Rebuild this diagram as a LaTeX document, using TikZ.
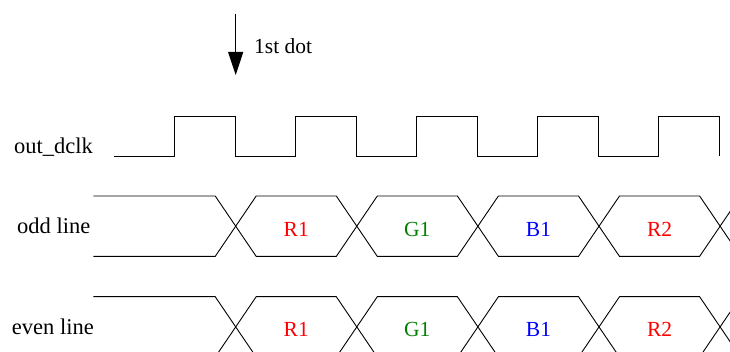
\documentclass[tikz,border=0pt]{standalone}
\usepackage{fontspec}
\setmainfont{Liberation Serif}
\usepackage{xcolor}
\definecolor{colorR}{rgb}{1,0,0}
\definecolor{colorG}{rgb}{0,0.5,0}
\definecolor{colorB}{rgb}{0,0,1}
\usetikzlibrary{arrows.meta, positioning}
\tikzset{wave/.style={line width=0.9pt, line join=miter},
  sigName/.style={anchor=base east, font=\fontsize{22.5}{26}\selectfont}}

\begin{document}
\begin{tikzpicture}[x=1pt, y=-1pt, >={Triangle[length=23pt, width=15pt]}, every node/.style={font=\fontsize{21.5}{25}\selectfont, inner sep=0pt}]
\useasboundingbox (0,0) rectangle (730,352);
\clip (0,0) rectangle (730,352);
% marker for the first dot
\coordinate (dotTop) at (235.7,14);
\coordinate (dotTip) at (235.7,75);
\draw [->, wave] (dotTop) -- (dotTip);
\node [anchor=base west] (dotLabel) at (254,53.3) {1st dot};
% clock
\node [sigName] (clkName) at (93,153.3) {out\_dclk};
\draw [wave] (114,156) -- (174.5,156)
  \foreach \i in {1,...,4} { -- ++(0,-40) -- ++(61,0) -- ++(0,40) -- ++(60.1,0) }
  -- ++(0,-40) -- ++(61,0) -- ++(0,40);
% data lines
\foreach \row/\c/\nx/\txt in {odd/226.2/90.5/odd line, even/326.9/94/even line} {
  \node [sigName] (\row Name) at (\nx,{\c+7.3}) {\txt};
  \draw [wave] (93.3,{\c-30.2}) -- (215.2,{\c-30.2}) -- (235.7,\c) -- (215.2,{\c+30.2}) -- (93.3,{\c+30.2});
  \foreach \k/\d/\col in {0/R1/colorR, 1/G1/colorG, 2/B1/colorB, 3/R2/colorR} {
    \pgfmathsetmacro\xa{235.7+121.1*\k}
    \pgfmathsetmacro\xb{\xa+121.1}
    \draw [wave] (\xa,\c) -- ({\xa+20.5},{\c-30.2}) -- ({\xb-20.5},{\c-30.2}) -- (\xb,\c)
      -- ({\xb-20.5},{\c+30.2}) -- ({\xa+20.5},{\c+30.2}) -- cycle;
    \node [anchor=base, text=\col] (\row\d) at ({(\xa+\xb)/2},{\c+10}) {\d};
  }
  \draw [wave] (740.6,{\c-30.2}) -- (720.1,\c) -- (740.6,{\c+30.2});
}
\end{tikzpicture}
\end{document}
